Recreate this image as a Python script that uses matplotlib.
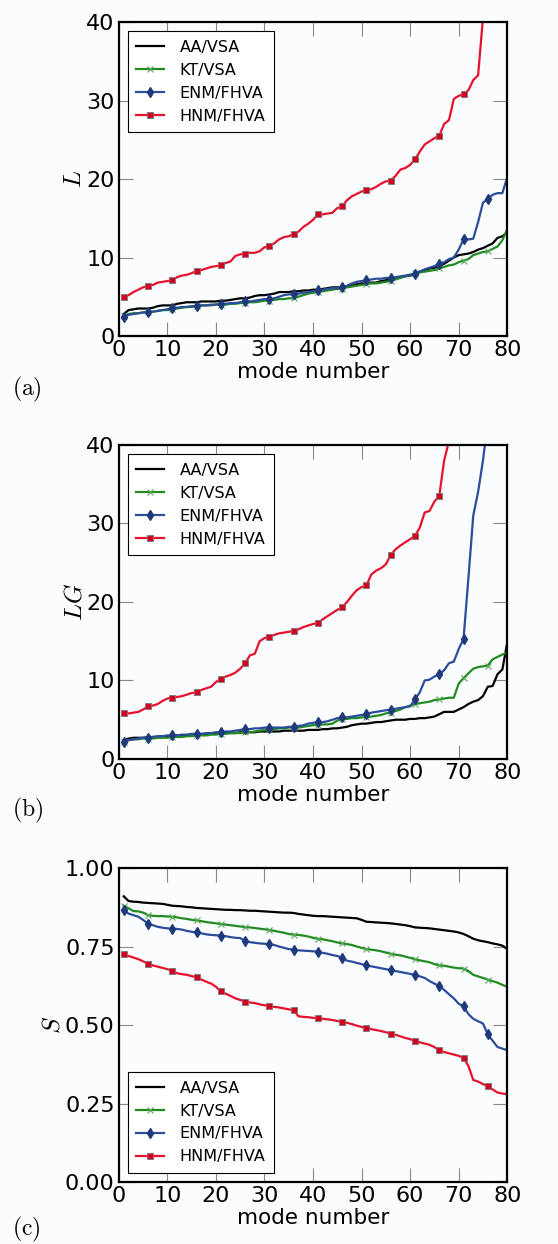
import numpy as np
import matplotlib
matplotlib.use("Agg")
import matplotlib.pyplot as plt

plt.rcParams["mathtext.fontset"] = "cm"
plt.rcParams["font.family"] = "DejaVu Sans"

modes = np.arange(1, 81)

# panel (a): L
L_aa = [2.8, 3.3, 3.4, 3.5, 3.5, 3.5, 3.6, 3.8, 3.9, 3.9,
        3.9, 4.1, 4.2, 4.3, 4.3, 4.3, 4.4, 4.4, 4.4, 4.4,
        4.5, 4.5, 4.6, 4.7, 4.8, 4.8, 4.9, 5.1, 5.2, 5.2,
        5.3, 5.4, 5.6, 5.6, 5.6, 5.7, 5.7, 5.8, 5.8, 5.9,
        5.9, 6.0, 6.1, 6.2, 6.2, 6.2, 6.3, 6.4, 6.6, 6.7,
        6.7, 6.8, 6.8, 7.0, 7.1, 7.2, 7.4, 7.5, 7.6, 7.7,
        7.9, 8.2, 8.4, 8.6, 8.7, 8.9, 9.2, 9.6, 10.0, 10.3,
        10.4, 10.5, 10.7, 11.0, 11.2, 11.5, 11.8, 12.5, 12.7, 13.2]
L_kt = [2.6, 2.8, 2.9, 2.9, 3.0, 3.0, 3.1, 3.2, 3.3, 3.3,
        3.4, 3.5, 3.6, 3.7, 3.7, 3.8, 3.9, 3.9, 3.9, 4.0,
        4.0, 4.0, 4.1, 4.1, 4.2, 4.2, 4.3, 4.3, 4.4, 4.5,
        4.5, 4.6, 4.7, 4.7, 4.8, 4.8, 5.0, 5.2, 5.4, 5.5,
        5.6, 5.7, 5.8, 5.9, 6.0, 6.0, 6.2, 6.3, 6.4, 6.5,
        6.6, 6.7, 6.7, 6.8, 6.9, 7.0, 7.2, 7.4, 7.6, 7.8,
        8.0, 8.1, 8.2, 8.3, 8.4, 8.6, 8.8, 9.0, 9.1, 9.4,
        9.6, 9.8, 10.3, 10.5, 10.7, 10.8, 11.1, 11.4, 12.2, 13.6]
L_enm = [2.4, 2.7, 2.8, 2.9, 3.0, 3.0, 3.1, 3.2, 3.3, 3.4,
         3.6, 3.6, 3.7, 3.7, 3.8, 3.8, 3.9, 3.9, 4.0, 4.0,
         4.1, 4.1, 4.2, 4.2, 4.3, 4.4, 4.4, 4.5, 4.6, 4.7,
         4.7, 4.8, 5.0, 5.2, 5.3, 5.3, 5.4, 5.5, 5.6, 5.7,
         5.8, 5.9, 6.0, 6.1, 6.1, 6.2, 6.4, 6.7, 6.9, 7.0,
         7.1, 7.2, 7.3, 7.3, 7.4, 7.4, 7.5, 7.6, 7.7, 7.8,
         7.9, 8.2, 8.5, 8.7, 8.9, 9.2, 9.4, 9.8, 10.0, 11.0,
         12.3, 12.3, 12.4, 14.5, 17.0, 17.4, 18.0, 18.2, 18.2, 20.2]
L_hnm = [5.0, 5.2, 5.6, 5.9, 6.2, 6.4, 6.5, 6.8, 6.9, 7.0,
         7.1, 7.5, 7.7, 7.8, 8.0, 8.3, 8.4, 8.6, 8.8, 8.9,
         9.0, 9.3, 9.5, 10.2, 10.4, 10.5, 10.6, 10.6, 10.8, 11.3,
         11.5, 11.8, 12.3, 12.6, 12.7, 13.0, 13.3, 13.9, 14.3, 14.8,
         15.5, 15.5, 15.6, 15.7, 16.3, 16.5, 17.3, 17.8, 18.1, 18.4,
         18.6, 18.7, 19.0, 19.4, 19.7, 19.8, 20.4, 21.2, 21.4, 21.8,
         22.5, 23.5, 24.4, 24.8, 25.2, 25.5, 27.0, 27.5, 30.2, 30.6,
         30.8, 31.3, 32.6, 33.2, 40.5, 46.0, 50.0, 54.0, 58.0, 62.0]

# panel (b): LG
LG_aa = [2.4, 2.6, 2.7, 2.7, 2.7, 2.8, 2.8, 2.8, 2.9, 2.9,
         2.9, 3.0, 3.0, 3.0, 3.0, 3.1, 3.1, 3.1, 3.2, 3.2,
         3.2, 3.3, 3.3, 3.3, 3.4, 3.4, 3.4, 3.4, 3.5, 3.5,
         3.5, 3.5, 3.5, 3.6, 3.6, 3.6, 3.6, 3.6, 3.7, 3.7,
         3.7, 3.8, 3.8, 3.9, 3.9, 4.0, 4.1, 4.3, 4.4, 4.5,
         4.5, 4.6, 4.7, 4.7, 4.8, 4.9, 5.0, 5.0, 5.0, 5.1,
         5.1, 5.2, 5.2, 5.3, 5.4, 5.7, 6.0, 6.0, 6.0, 6.3,
         6.6, 7.0, 7.3, 7.5, 8.0, 9.2, 9.3, 10.8, 11.4, 14.8]
LG_kt = [2.2, 2.4, 2.5, 2.5, 2.6, 2.6, 2.6, 2.7, 2.7, 2.7,
         2.8, 2.8, 2.8, 2.9, 2.9, 3.0, 3.0, 3.0, 3.1, 3.1,
         3.2, 3.2, 3.3, 3.3, 3.3, 3.4, 3.4, 3.5, 3.6, 3.7,
         3.8, 3.8, 3.9, 3.9, 4.0, 4.0, 4.0, 4.1, 4.2, 4.3,
         4.3, 4.4, 4.4, 4.5, 4.9, 5.1, 5.1, 5.2, 5.2, 5.3,
         5.3, 5.4, 5.5, 5.6, 5.8, 5.9, 6.1, 6.3, 6.6, 6.8,
         7.0, 7.1, 7.2, 7.3, 7.5, 7.6, 7.7, 7.8, 7.8, 9.6,
         10.3, 10.9, 11.5, 11.7, 11.8, 11.9, 12.7, 13.0, 13.3, 13.6]
LG_enm = [2.1, 2.4, 2.5, 2.6, 2.7, 2.7, 2.8, 2.9, 2.9, 3.0,
          3.0, 3.0, 3.1, 3.1, 3.2, 3.2, 3.2, 3.3, 3.3, 3.4,
          3.4, 3.5, 3.5, 3.6, 3.7, 3.8, 3.8, 3.9, 3.9, 4.0,
          4.0, 4.0, 4.0, 4.0, 4.1, 4.1, 4.2, 4.3, 4.5, 4.6,
          4.7, 4.7, 4.8, 5.0, 5.2, 5.3, 5.3, 5.4, 5.5, 5.6,
          5.7, 5.9, 6.0, 6.1, 6.2, 6.3, 6.4, 6.5, 6.6, 6.7,
          7.6, 8.5, 10.0, 10.1, 10.5, 10.8, 11.3, 12.2, 12.4, 14.0,
          15.3, 23.0, 31.0, 34.0, 38.0, 43.0, 46.0, 49.0, 52.0, 55.0]
LG_hnm = [5.8, 5.8, 5.9, 6.0, 6.3, 6.7, 6.8, 7.0, 7.4, 7.7,
          7.8, 7.9, 8.0, 8.2, 8.4, 8.5, 8.8, 9.0, 9.2, 9.8,
          10.2, 10.5, 10.7, 11.0, 11.5, 12.2, 13.2, 13.4, 15.0, 15.4,
          15.6, 15.8, 16.0, 16.1, 16.2, 16.3, 16.5, 16.8, 17.0, 17.2,
          17.3, 17.8, 18.2, 18.6, 19.0, 19.3, 20.0, 20.8, 21.5, 21.9,
          22.1, 23.5, 24.0, 24.3, 24.8, 26.0, 26.7, 27.2, 27.6, 28.0,
          28.4, 29.5, 31.4, 31.6, 32.8, 33.5, 38.0, 40.5, 44.0, 47.0,
          50.0, 53.0, 56.0, 59.0, 62.0, 65.0, 68.0, 71.0, 74.0, 77.0]

# panel (c): S
S_aa = [.910, .895, .893, .892, .890, .889, .888, .887, .886, .883,
        .880, .879, .878, .876, .875, .873, .872, .871, .870, .869,
        .868, .867, .867, .866, .866, .865, .864, .864, .863, .862,
        .861, .860, .859, .858, .858, .857, .854, .852, .850, .848,
        .847, .847, .846, .845, .844, .843, .842, .841, .840, .835,
        .829, .828, .827, .826, .825, .824, .822, .820, .818, .815,
        .811, .810, .809, .808, .806, .804, .802, .800, .798, .795,
        .790, .783, .775, .770, .767, .764, .760, .757, .753, .742]
S_kt = [.880, .872, .863, .862, .858, .850, .848, .847, .847, .846,
        .845, .843, .840, .838, .835, .833, .831, .828, .826, .824,
        .822, .820, .818, .816, .814, .812, .811, .809, .807, .805,
        .803, .800, .797, .794, .790, .788, .787, .785, .782, .778,
        .775, .773, .770, .767, .763, .760, .758, .755, .750, .746,
        .742, .740, .738, .735, .731, .727, .724, .722, .718, .714,
        .710, .706, .703, .700, .694, .690, .689, .686, .683, .681,
        .680, .672, .660, .655, .650, .645, .640, .635, .628, .622]
S_enm = [.865, .855, .850, .845, .835, .823, .818, .813, .810, .808,
         .807, .806, .804, .800, .797, .795, .792, .789, .787, .786,
         .785, .783, .780, .778, .777, .768, .764, .762, .760, .759,
         .757, .755, .750, .746, .742, .740, .738, .737, .736, .735,
         .733, .730, .727, .723, .720, .715, .705, .702, .698, .694,
         .690, .687, .684, .681, .678, .675, .672, .669, .666, .663,
         .660, .655, .650, .640, .632, .625, .612, .598, .585, .568,
         .560, .535, .520, .512, .505, .470, .450, .430, .425, .420]
S_hnm = [.725, .720, .715, .710, .703, .695, .690, .686, .682, .678,
         .672, .665, .662, .660, .656, .652, .645, .638, .632, .622,
         .607, .600, .593, .585, .580, .575, .572, .570, .566, .563,
         .560, .558, .556, .553, .550, .547, .528, .526, .525, .523,
         .521, .520, .518, .516, .513, .510, .507, .503, .498, .494,
         .490, .487, .484, .481, .477, .473, .469, .464, .459, .455,
         .450, .445, .441, .437, .430, .420, .414, .410, .406, .402,
         .395, .370, .325, .320, .312, .305, .295, .285, .282, .280]

labels = ["AA/VSA", "KT/VSA", "ENM/FHVA", "HNM/FHVA"]

panels = [
    ([L_aa, L_kt, L_enm, L_hnm], r"$L$", (0, 40), [0, 10, 20, 30, 40], "upper left", "(a)"),
    ([LG_aa, LG_kt, LG_enm, LG_hnm], r"$LG$", (0, 40), [0, 10, 20, 30, 40], "upper left", "(b)"),
    ([S_aa, S_kt, S_enm, S_hnm], r"$S$", (0, 1), [0.0, 0.25, 0.5, 0.75, 1.0], "lower left", "(c)"),
]

fig = plt.figure(figsize=(5.58, 12.44), dpi=100)
fig.patch.set_facecolor("#fbfcfd")

bottoms = [0.7299, 0.3899, 0.0498]
tag_y = [0.6873, 0.3489, 0.0115]
for (series, ylab, ylim, yticks, loc, tag), bot, ty in zip(panels, bottoms, tag_y):
    ax = fig.add_axes([0.213, bot, 0.696, 0.2524])
    ax.set_facecolor("#fbfcfd")
    aa, kt, enm, hnm = series
    ax.plot(modes, aa, color="black", lw=1.6, label=labels[0])
    ax.plot(modes, kt, color="#228b22", lw=1.6, marker="x", ms=4, mew=0.8,
            mec="#5aa85a", markevery=5, label=labels[1])
    ax.plot(modes, enm, color="#2a4d9c", lw=1.6, marker="d", ms=5.5,
            mfc="#1f3a7a", mec="#1f3a7a", markevery=5, label=labels[2])
    ax.plot(modes, hnm, color="#e8112d", lw=1.6, marker="s", ms=4.8,
            mfc="#d4001f", mec="#777777", mew=0.6, markevery=5, label=labels[3])
    ax.set_xlim(0, 80)
    ax.set_ylim(*ylim)
    ax.set_xticks(range(0, 81, 10))
    ax.set_yticks(yticks)
    if ylim[1] == 1:
        ax.set_yticklabels([f"{t:.2f}" for t in yticks])
    ax.tick_params(direction="in", length=10, width=0.8, color="#888888",
                   top=True, right=True, labelsize=16, pad=3)
    for sp in ax.spines.values():
        sp.set_linewidth(1.6)
    ax.set_xlabel("mode number", fontsize=15.5, labelpad=1)
    ax.set_ylabel(ylab, fontsize=18, labelpad=0)
    leg = ax.legend(loc=loc, fontsize=11.5, fancybox=False, framealpha=1,
                    edgecolor="black", borderaxespad=0.55, handlelength=1.7,
                    handletextpad=1.0, labelspacing=0.5, borderpad=0.55)
    leg.get_frame().set_linewidth(0.8)
    fig.text(0.021, ty, r"$\mathrm{" + tag + "}$", fontsize=17, va="center")

fig.savefig("out.png", dpi=100, facecolor=fig.get_facecolor())
